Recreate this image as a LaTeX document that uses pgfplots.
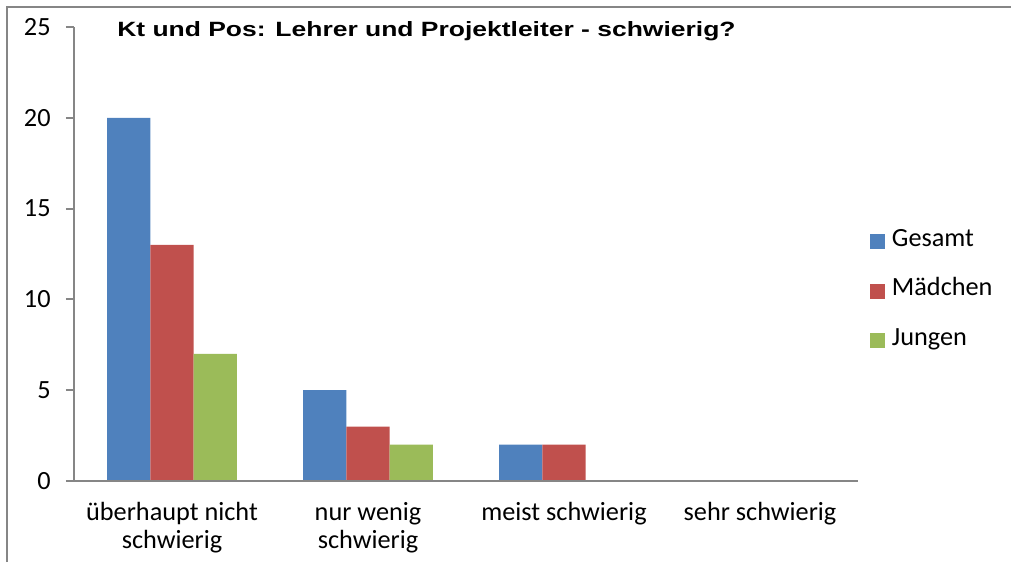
\documentclass[border=0pt]{standalone}
\usepackage{pgfplots}
\pgfplotsset{compat=1.18}
\usepackage{fontspec}
\setmainfont{Carlito}
\newfontfamily\titlefont[FakeStretch=1.28]{Liberation Sans}
\definecolor{cblue}{HTML}{4F81BD}
\definecolor{cred}{HTML}{C0504D}
\definecolor{cgreen}{HTML}{9BBB59}
\definecolor{axgray}{HTML}{868686}
\begin{document}
\begin{tikzpicture}
\path[use as bounding box] (0pt,0pt) rectangle (758.25pt,421.5pt);
\draw[axgray, line width=1.5pt] (5.25pt,0pt) -- (5.25pt,415.9pt) -- (758.25pt,415.9pt);
\begin{axis}[
  at={(55.5pt,60.75pt)}, anchor=south west,
  scale only axis, width=588pt, height=340.5pt,
  xmin=-0.5, xmax=3.5, ymin=0, ymax=25,
  ybar=0pt, bar width=0.221,
  axis on top,
  axis x line=bottom, axis y line=left,
  axis line style={-, axgray, line width=1.5pt},
  xtick={0,1,2,3},
  xticklabels={{überhaupt nicht\\schwierig},{nur wenig\\schwierig},{meist schwierig},{sehr schwierig}},
  xtick style={draw=none},
  minor xtick={-0.5,0.5,1.5,2.5,3.5},
  minor tick length=6pt,
  ytick={0,5,10,15,20,25},
  ytick style={axgray, line width=1.5pt},
  major tick length=6pt,
  tick align=outside,
  minor tick style={axgray, line width=1.5pt},
  /pgf/number format/assume math mode=true,
  tick label style={font=\fontsize{19.7pt}{21pt}\selectfont, text=black},
  xticklabel style={align=center, yshift=-6.2pt},
  yticklabel style={xshift=-8pt},
  legend style={at={(1.0153,0.418)}, anchor=west, draw=none, fill=none,
    font=\fontsize{19.7pt}{21pt}\selectfont, inner sep=0pt, row sep=24pt,
    nodes={inner sep=0pt, text height=10pt, text depth=3pt}},
  legend cell align=left,
  legend image code/.code={\fill[#1] (0pt,-5.6pt) rectangle (11.25pt,5.6pt);},
  clip=false,
]
\addplot[fill=cblue, draw=none] coordinates {(0,20) (1,5) (2,2) (3,0)};
\addplot[fill=cred, draw=none] coordinates {(0,13) (1,3) (2,2) (3,0)};
\addplot[fill=cgreen, draw=none] coordinates {(0,7) (1,2) (2,0) (3,0)};
\legend{\hspace{5pt}Gesamt,\hspace{5pt}Mädchen,\hspace{5pt}Jungen}
\end{axis}
\node[anchor=base west, inner sep=0pt, font=\titlefont\bfseries\fontsize{15.5pt}{17pt}\selectfont] at (87.75pt,393.75pt) {Kt und Pos: Lehrer und Projektleiter - schwierig?};
\end{tikzpicture}
\end{document}
